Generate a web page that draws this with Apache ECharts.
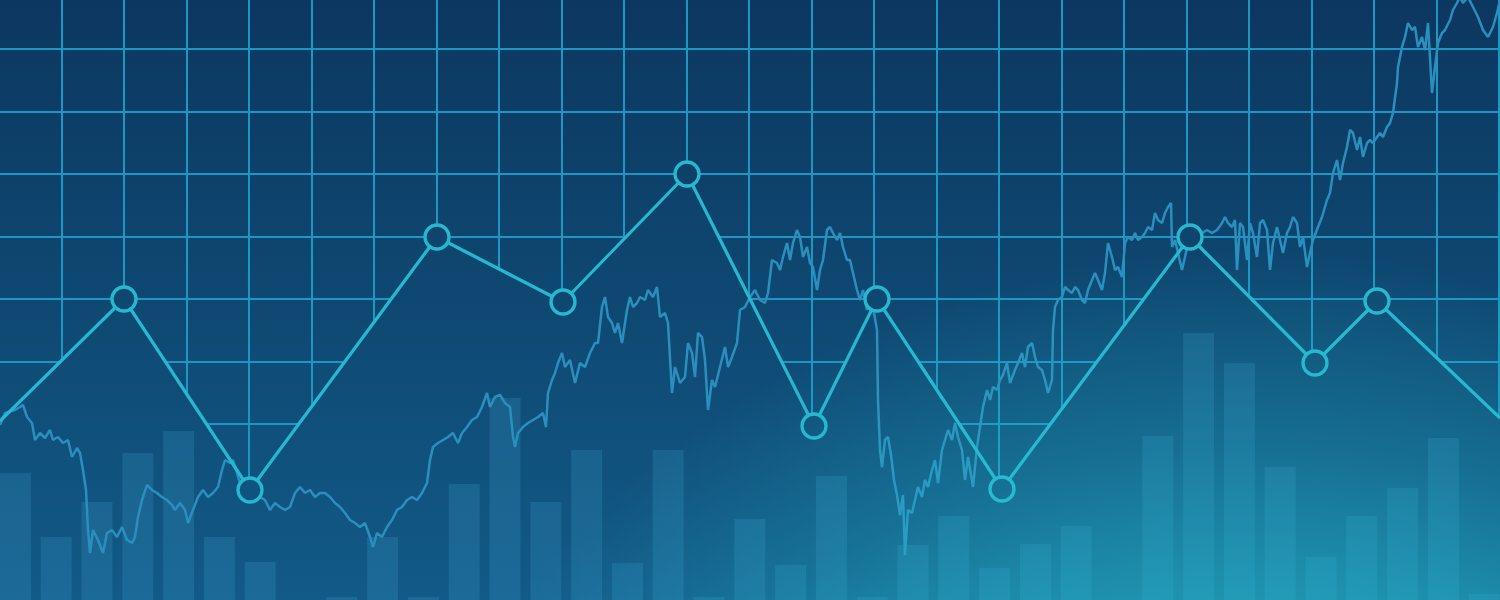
<!DOCTYPE html>
<html>
<head>
<meta charset="utf-8">
<script src="https://cdn.jsdelivr.net/npm/echarts@6/dist/echarts.min.js"></script>
<style>
html,body{margin:0;padding:0;background:#0c3860;}
#c{width:1500px;height:600px;}
</style>
</head>
<body>
<div id="c"></div>
<script>
// ---- data ----
// zigzag (main line) x positions and values
var zigX = [0, 124, 250, 437, 563, 687, 814, 877, 1002, 1190, 1315, 1377, 1500];
var zigV = [179, 301, 110, 363, 298, 426, 174, 301, 111, 363, 237, 299, 182];

// background bar heights (37 bars)
var barCats = [];
for (var i = 1; i <= 37; i++) barCats.push('B' + i);
var barV = [127, 63, 98, 147, 169, 63, 38, 0, 3, 63, 3, 116, 202, 98, 150, 37, 150, 3, 81, 35, 124, 3, 55, 84, 32, 56, 74, 0, 164, 267, 237, 133, 43, 84, 112, 162, 6];

// noisy background price line [x, value]
var stock = [
[0,175],[5,187],[7,188],[15,190],[20,193],[23,195],[27,183],[32,177],[35,160],[40,167],[45,162],[50,170],[53,160],[58,163],[63,157],[68,160],[72,143],[77,152],[80,147],[83,130],[86,110],[87,90],[88,70],[90,47],[93,70],[98,60],[103,47],[107,67],[112,70],[117,63],[122,73],[127,60],[132,57],[135,63],[138,83],[142,100],[147,115],[152,110],[157,107],[162,103],[167,100],[172,95],[175,90],[180,97],[185,90],[188,77],[193,90],[198,103],[203,110],[208,103],[213,107],[218,113],[222,130],[225,140],[230,137],[233,140],[237,127],[242,110],[247,103],
[250,120],[255,110],[260,103],[265,100],[270,90],[275,97],[280,93],[285,90],[290,93],[295,107],[300,113],[305,107],[310,110],[315,103],[320,107],[325,107],[330,103],[335,97],[340,93],[345,87],[350,80],[355,77],[360,73],[365,77],[370,63],[373,53],[377,67],[382,63],[387,73],[392,80],[397,90],[402,93],[407,100],[412,103],[417,100],[422,107],[427,117],[430,140],[433,153],[438,157],[443,160],[448,163],[453,167],[458,157],[462,167],[467,173],[472,180],[477,183],[482,193],[487,207],[490,193],[495,203],[500,205],[505,197],[510,193],[513,163],[515,153],[518,167],[523,173],[528,177],[533,180],[538,183],[543,187],[546,173],[548,207],[552,220],[555,227],[558,237],[562,247],[565,233],
[570,240],[575,217],[580,237],[585,233],[590,247],[595,257],[598,257],[602,293],[605,303],[608,283],[612,277],[615,267],[618,277],[622,257],[627,290],[630,303],[633,293],[637,297],[640,303],[645,300],[648,310],[653,303],[657,313],[660,283],[665,287],[668,277],[672,207],[675,233],[680,217],[685,223],[688,257],[692,247],[695,223],[698,267],[702,263],[705,240],[708,190],[712,220],[715,213],[720,233],[725,253],[728,233],[732,243],[737,257],[740,290],[745,293],[750,303],[755,310],[760,300],[765,297],[768,307],[772,340],[777,337],[780,330],[783,343],[787,357],[790,340],[793,357],[797,370],[800,363],[803,343],[807,353],[810,337],[813,333],[817,310],[820,330],[823,340],[827,370],[830,373],[833,367],[837,360],[840,367],[843,353],[847,340],[850,340],[853,327],[857,310],[860,300],[863,310],[867,290],[870,300],[873,293],
[877,270],[878,200],[880,150],[882,133],[885,160],[888,163],[891,145],[894,120],[897,105],[900,85],[903,105],[905,45],[908,90],[912,87],[915,100],[918,113],[922,103],[925,120],[928,113],[932,130],[935,140],[938,117],[942,150],[945,160],[948,170],[952,160],[955,177],[958,163],[962,150],[965,120],[968,143],[973,113],[977,153],[980,173],[983,193],[987,210],[990,200],[993,213],[997,210],[1000,220],[1003,225],[1007,237],[1010,217],[1015,230],[1018,237],[1022,247],[1025,233],[1028,253],[1032,257],[1035,243],[1038,233],[1042,230],[1045,220],[1048,207],[1052,220],[1053,270],[1055,293],[1058,300],[1062,303],[1065,313],
[1068,310],[1072,307],[1075,313],[1078,310],[1082,300],[1085,297],[1088,310],[1092,320],[1095,327],[1098,320],[1102,310],[1105,327],[1108,357],[1112,343],[1115,330],[1118,333],[1122,323],[1125,357],[1128,363],[1132,360],[1135,367],[1138,360],[1142,363],[1145,367],[1148,373],[1152,370],[1155,387],[1158,380],[1162,377],[1165,387],[1168,393],[1171,397],[1172,353],[1175,360],[1178,347],[1182,330],[1185,343],[1188,357],[1192,360],[1197,363],[1202,367],[1207,370],[1212,367],[1217,370],[1222,377],[1225,383],[1228,377],[1232,373],[1235,380],[1237,330],[1240,377],[1243,373],[1247,340],[1250,377],[1253,367],[1257,343],[1260,377],[1263,380],[1267,370],[1270,330],[1273,357],[1277,373],[1280,360],[1283,347],[1287,367],[1290,373],[1293,383],[1297,377],[1300,353],[1303,363],[1307,333],[1310,347],[1313,360],
[1318,373],[1322,383],[1327,400],[1330,407],[1333,427],[1337,440],[1340,420],[1343,437],[1347,453],[1350,470],[1353,467],[1357,450],[1360,463],[1363,443],[1367,457],[1370,460],[1373,457],[1377,463],[1380,467],[1383,463],[1387,473],[1390,477],[1393,487],[1397,517],[1398,533],[1402,553],[1405,563],[1408,577],[1412,570],[1415,573],[1418,553],[1422,563],[1425,550],[1428,577],[1432,507],[1435,533],[1438,557],[1442,567],[1445,570],[1450,580],[1453,590],[1457,597],[1460,603],[1463,597],[1468,603],[1473,593],[1478,583],[1483,570],[1488,563],[1493,573],[1497,587],[1500,600]
];

// ---- styles ----
var BG_STOPS = [
  {offset: 0, color: '#0c3760'},
  {offset: 0.5, color: '#0e4872'},
  {offset: 1, color: '#125a88'}
];
function hexToRgb(h){return [parseInt(h.substr(1,2),16),parseInt(h.substr(3,2),16),parseInt(h.substr(5,2),16)];}
function bgAt(t){
  for (var k = 0; k < BG_STOPS.length - 1; k++) {
    var a = BG_STOPS[k], b = BG_STOPS[k+1];
    if (t <= b.offset) {
      var f = (t - a.offset) / (b.offset - a.offset);
      var ca = hexToRgb(a.color), cb = hexToRgb(b.color);
      return 'rgb(' + [0,1,2].map(function(j){return Math.round(ca[j] + (cb[j]-ca[j])*f);}).join(',') + ')';
    }
  }
  return BG_STOPS[BG_STOPS.length-1].color;
}

var GRID_COLOR = '#1a97c2';
var LINE_COLOR = '#25b8cf';

var zigData = zigX.map(function(x, i){
  var item = {value: [x, zigV[i]]};
  if (i === 0 || i === zigX.length - 1) item.symbol = 'none';
  return item;
});
var maskData = zigX.map(function(x, i){ return [x, zigV[i]]; });

var chart = echarts.init(document.getElementById('c'), null, {renderer: 'canvas'});
var hiddenAxis = {axisLine:{show:false}, axisTick:{show:false}, axisLabel:{show:false}};
chart.setOption({
  animation: false,
  graphic: [
    {type:'rect', silent:true, z:-100, shape:{x:0,y:0,width:1500,height:600},
     style:{fill:{type:'linear',x:0,y:0,x2:0,y2:1,colorStops:BG_STOPS}}},
    {type:'rect', silent:true, z:100, shape:{x:0,y:0,width:1500,height:600},
     style:{fill:{type:'radial',x:1250,y:1200,r:950,global:true,colorStops:[
       {offset:0,color:'rgba(40,195,210,0.9)'},
       {offset:0.55,color:'rgba(40,195,210,0.7)'},
       {offset:0.8,color:'rgba(40,195,210,0.25)'},
       {offset:1,color:'rgba(40,195,210,0)'}]}}}
  ],
  grid: [
    {left:-1, right:1, top:-13.5, bottom:-11.5, outerBoundsMode:'none'},
    {left:-5, right:-4.6, top:0, bottom:0, outerBoundsMode:'none'},
    {left:0, right:0, top:0, bottom:0, outerBoundsMode:'none'}
  ],
  xAxis: [
    Object.assign({gridIndex:0, type:'value', min:0, max:24, interval:1,
      splitLine:{show:true, lineStyle:{color:GRID_COLOR, width:2}}}, hiddenAxis),
    Object.assign({gridIndex:1, type:'category', data:barCats, boundaryGap:true, splitLine:{show:false}}, hiddenAxis),
    Object.assign({gridIndex:2, type:'value', min:0, max:1500, splitLine:{show:false}}, hiddenAxis)
  ],
  yAxis: [
    Object.assign({gridIndex:0, type:'value', min:0, max:10, interval:1,
      splitLine:{show:true, lineStyle:{color:GRID_COLOR, width:2}}}, hiddenAxis),
    Object.assign({gridIndex:1, type:'value', min:0, max:600, splitLine:{show:false}}, hiddenAxis),
    Object.assign({gridIndex:2, type:'value', min:0, max:600, splitLine:{show:false}}, hiddenAxis)
  ],
  series: [
    { // mask hiding the grid below the zigzag
      type:'line', xAxisIndex:2, yAxisIndex:2, z:1, silent:true,
      data: maskData, symbol:'none',
      lineStyle:{width:0, opacity:0},
      areaStyle:{opacity:1, color:{type:'linear',x:0,y:0,x2:0,y2:600,global:true,colorStops:BG_STOPS}}
    },
    {
      type:'bar', xAxisIndex:1, yAxisIndex:1, z:2, silent:true,
      data: barV, barWidth:31,
      itemStyle:{color:'rgba(70,170,215,0.2)'}
    },
    {
      type:'line', xAxisIndex:2, yAxisIndex:2, z:3, silent:true,
      data: stock, symbol:'none',
      lineStyle:{color:'#2a8fbd', width:2.5}
    },
    {
      type:'line', xAxisIndex:2, yAxisIndex:2, z:5, silent:true,
      data: zigData, symbol:'circle', symbolSize:24, showAllSymbol:true,
      lineStyle:{color:LINE_COLOR, width:3.2},
      itemStyle:{
        color:function(p){ return bgAt((600 - p.value[1]) / 600); },
        borderColor:LINE_COLOR, borderWidth:3.3
      }
    }
  ]
});
</script>
</body>
</html>
